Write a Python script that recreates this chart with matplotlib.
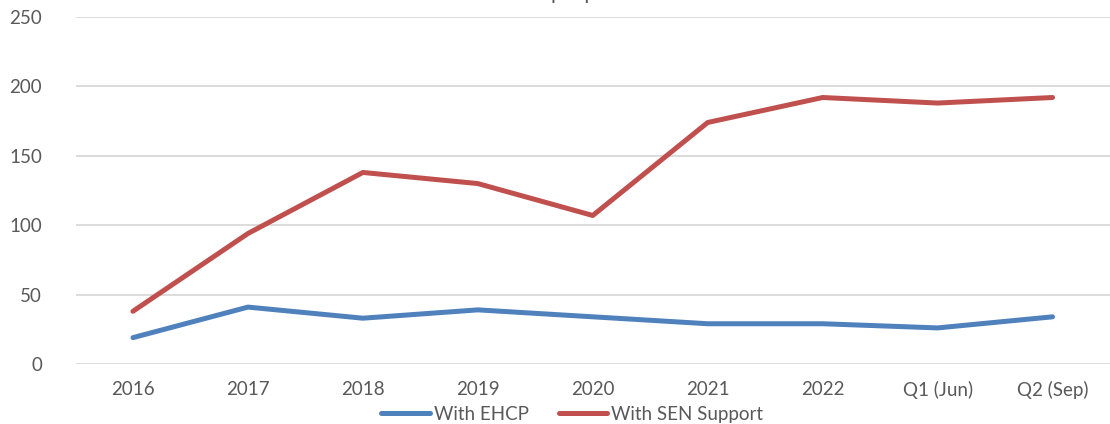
import matplotlib
matplotlib.use("Agg")
import matplotlib.pyplot as plt

categories = ["2016", "2017", "2018", "2019", "2020", "2021", "2022", "Q1 (Jun)", "Q2 (Sep)"]
with_ehcp = [19, 41, 33, 39, 34, 29, 29, 26, 34]
with_sen_support = [38, 94, 138, 130, 107, 174, 192, 188, 192]
y_ticks = [0, 50, 100, 150, 200, 250]

plt.rcParams['font.family'] = ['Lato', 'DejaVu Sans']

fig = plt.figure(figsize=(11.10, 4.24), dpi=100)
ax = fig.add_axes([75.5 / 1110, 60 / 424, 1 - 75.5 / 1110, 347 / 424])

x = list(range(len(categories)))
ax.plot(x, with_ehcp, color="#4F81BD", lw=3.6, solid_capstyle="round",
        solid_joinstyle="round", label="With EHCP", zorder=3)
ax.plot(x, with_sen_support, color="#C0504D", lw=3.6, solid_capstyle="round",
        solid_joinstyle="round", label="With SEN Support", zorder=3)

ax.set_xlim(-0.5, len(categories) - 0.5)
ax.set_ylim(0, 250)
ax.set_yticks(y_ticks)
ax.set_xticks(x)
ax.set_xticklabels(categories)
ax.grid(axis="y", color="#D9D9D9", lw=1.3)
ax.set_axisbelow(True)
for s in ax.spines.values():
    s.set_visible(False)
ax.tick_params(axis="both", length=0, labelsize=13.5, colors="#595959")
ax.tick_params(axis="y", pad=24)
ax.tick_params(axis="x", pad=12)

leg = ax.legend(loc="upper center", bbox_to_anchor=(0.48, -0.12),
                ncol=2, frameon=False, fontsize=13.5, handlelength=2.6,
                handletextpad=0.2, columnspacing=1.6, borderpad=0, borderaxespad=0)
for t in leg.get_texts():
    t.set_color("#595959")

fig.text(581 / 1110, 1.0 + 1.0 / 424, "people", ha="center", va="baseline",
         fontsize=15, color="#595959")

fig.savefig("out.png", dpi=100)
